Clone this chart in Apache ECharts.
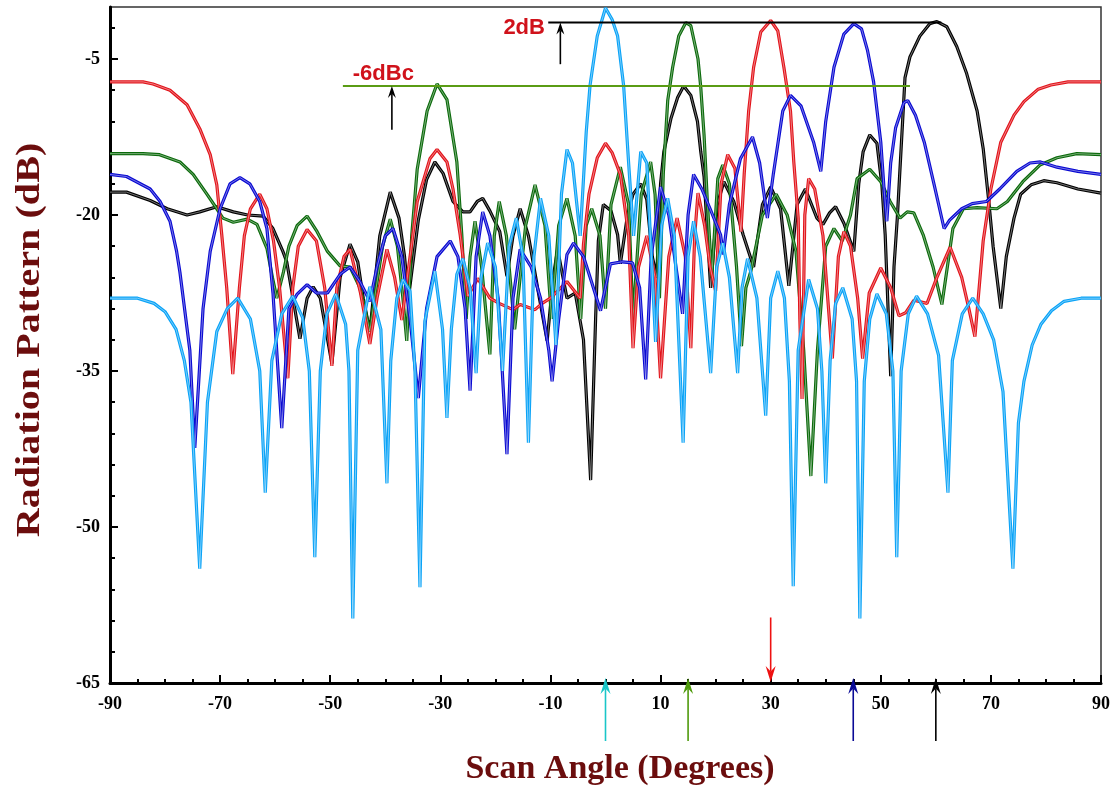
<!DOCTYPE html>
<html>
<head>
<meta charset="utf-8">
<script src="https://cdn.jsdelivr.net/npm/echarts@6/dist/echarts.min.js"></script>
<style>
html, body { margin: 0; padding: 0; background: #fff; }
#chart { width: 1118px; height: 788px; }
</style>
</head>
<body>
<div id="chart"></div>
<script>
// scan angle (deg) vs radiation pattern (dB), one trace per beam position
const beam0 = [[-90,-28],[-85,-28],[-82,-28.5],[-80,-29.3],[-78,-31],[-76.5,-34],[-75.3,-38],[-73.7,-54],[-72.3,-38],[-70.6,-31.2],[-68.7,-29],[-66.8,-28],[-64.5,-30],[-62.8,-35],[-61.8,-46.7],[-60.6,-34],[-58.8,-29.5],[-56.8,-27.8],[-55,-29.9],[-53.8,-35],[-52.8,-52.9],[-51.8,-35],[-50.6,-29.5],[-49,-27.6],[-47.2,-30.5],[-46.6,-35],[-45.9,-58.8],[-45,-33],[-42.8,-26.9],[-40.8,-31],[-39.7,-45.8],[-39,-34],[-37.9,-28],[-36.8,-26.2],[-35.5,-27.3],[-34.6,-35],[-33.7,-55.8],[-32.8,-30.2],[-31,-25.4],[-29.6,-31],[-28.8,-39.5],[-28,-31],[-27,-25.7],[-25.9,-24.2],[-24.6,-27],[-23.5,-35.2],[-22.6,-26],[-21.4,-22.7],[-20,-25],[-18.7,-35],[-17.5,-23],[-16.2,-20.3],[-15,-24],[-14,-41.9],[-13,-24],[-11.8,-18.4],[-10.3,-22],[-9,-32.5],[-8,-18],[-7,-13.7],[-6,-15],[-4.6,-22],[-3.5,-12],[-2.8,-7.5],[-1.5,-2.8],[0,-0.1],[1.2,-1.2],[2.2,-2.8],[3.3,-7.6],[4.2,-15],[5.1,-22],[6.4,-13.9],[7.5,-15],[9.1,-32.2],[10.2,-21],[11.3,-18.4],[12.5,-22],[14.1,-41.9],[15,-24],[16,-20.6],[17.2,-24],[19.1,-35.2],[20.2,-25],[21.3,-22.7],[22.5,-26],[24,-35.2],[24.8,-27],[25.8,-24.2],[27.5,-28],[29.1,-39.3],[30,-28],[31.3,-25.4],[32.5,-28],[33.4,-36],[34.1,-55.7],[35,-33],[36.9,-26.2],[38.5,-29],[39.3,-35],[40,-45.8],[40.8,-34],[41.8,-28.5],[43.1,-27],[44.8,-30],[45.6,-36],[46.2,-58.8],[47,-36],[48,-30],[49.3,-27.6],[51,-29.5],[52.2,-35],[52.9,-52.9],[53.7,-35],[55,-29.5],[56.5,-27.8],[58.5,-29.5],[60.5,-33.5],[62.2,-46.7],[63,-34],[64.8,-29.5],[66.7,-28],[68.6,-29.5],[70.5,-32],[72.2,-37],[74,-54],[75,-40],[76,-36],[77.5,-32.5],[79.1,-30.5],[81,-29.2],[83.3,-28.3],[86.4,-28],[90,-28]];

const beam15 = [[-90,-14.1],[-84,-14.1],[-81,-14.2],[-77.3,-14.9],[-74.9,-16.1],[-72.4,-18],[-70.6,-19.4],[-69.5,-20.3],[-67.6,-20.7],[-65.1,-20.4],[-63.3,-20.9],[-61.5,-23.2],[-60.5,-26],[-59.7,-28],[-58.5,-25.5],[-57.5,-23],[-56,-21],[-54.2,-20.1],[-52.5,-21.5],[-50.5,-23.5],[-48.2,-24.9],[-46.4,-25],[-44.6,-27],[-43.5,-29.5],[-42.8,-31.2],[-41.8,-27.5],[-40.5,-23],[-39.1,-20.4],[-37.8,-23],[-36.8,-28],[-36.1,-32.1],[-35.2,-22],[-34.2,-15.6],[-32.4,-10],[-30.6,-7.4],[-28.8,-8.9],[-27,-14.9],[-26.1,-21.9],[-25.3,-30],[-24.6,-24],[-23.7,-20.6],[-22.5,-25],[-21,-33.4],[-20.2,-22],[-19.3,-18.7],[-18,-22],[-16.5,-31],[-14.5,-21],[-12.8,-17.1],[-11,-21],[-9.8,-30],[-8.5,-21],[-7,-18.4],[-5.5,-22],[-4.5,-30],[-3.5,-21],[-2.5,-19.4],[-1,-22],[0,-29],[1,-19],[2.7,-15.4],[4.2,-19],[5,-30],[6.5,-18],[8.2,-14.9],[9,-18],[9.8,-28],[10.5,-16],[11.3,-9],[12.2,-5.8],[13.3,-2.8],[14.6,-1.5],[15.5,-1.8],[16.8,-5],[17.3,-7.7],[17.9,-12.3],[18.5,-18.7],[19.3,-26],[20.4,-16.5],[21.3,-15.2],[22.5,-17],[23.8,-25],[24.7,-32.6],[25.5,-27],[26.4,-25.4],[28.5,-20],[31,-18],[33,-20],[34.6,-23.5],[36,-33],[37.3,-45.1],[38.5,-33],[40,-23],[41.5,-21.3],[43,-22.5],[44.5,-20],[45.7,-16.5],[48,-15.6],[50,-16.8],[51.7,-18.7],[53.5,-20.3],[54.8,-19.7],[56,-19.8],[57.7,-21.9],[59.5,-25],[61.1,-28.6],[62.5,-23.5],[63.1,-21.3],[65,-19.4],[67.5,-19.3],[71.1,-19.4],[73,-18.7],[75.8,-16.8],[78.9,-15.2],[82,-14.5],[85.6,-14.1],[90,-14.2]];

const beam30 = [[-90,-7.2],[-84,-7.2],[-82.2,-7.4],[-79.1,-8],[-76,-9.4],[-73.7,-11.7],[-71.8,-14.2],[-70.6,-17.1],[-69.7,-21.9],[-68.8,-27],[-67.7,-35.3],[-66.5,-27],[-65.6,-22],[-64.5,-19.4],[-62.8,-18],[-61.5,-19.4],[-60.3,-22.5],[-59.2,-27],[-57.7,-35.7],[-56.8,-27],[-55.8,-23],[-54.2,-21.4],[-52.5,-22.5],[-51,-27],[-49.7,-34.5],[-48.8,-27],[-47.5,-24],[-46.4,-23.3],[-44.5,-27.5],[-42.8,-32.4],[-41.5,-28],[-39.7,-23.3],[-38.3,-26],[-37,-30.1],[-35.5,-24],[-34.2,-18.7],[-31.9,-14.6],[-30.6,-13.7],[-28.8,-14.9],[-27.7,-17.5],[-26.4,-21.9],[-25,-27.8],[-23.2,-26.1],[-21,-28],[-19.3,-28.5],[-16.8,-29.1],[-15.5,-28.6],[-12.8,-29.1],[-11.5,-28.5],[-10,-28],[-7,-26.4],[-4.6,-28],[-4,-22.8],[-3,-18],[-1.5,-14.5],[0,-13.1],[1.2,-14],[2.7,-16.1],[4.2,-21.9],[5,-32.8],[6,-25],[7.5,-22],[9,-26],[10,-35.7],[11.5,-24],[13,-20.3],[14.5,-24],[15.5,-32.8],[16.2,-22],[16.8,-17.9],[18,-21],[19,-25],[20,-27.3],[21,-17],[22.2,-14.2],[23.5,-15.5],[24.6,-21.6],[25.2,-16],[26,-10],[26.9,-5.8],[28.2,-2.4],[30,-1.3],[31.3,-2.3],[32.4,-5.8],[33.6,-10],[34.2,-14.9],[35,-20.3],[35.3,-30],[35.7,-37.7],[36.2,-20],[36.9,-16.5],[38,-17.5],[39.5,-22],[41.2,-33.8],[42.3,-24],[43.3,-21.6],[44.5,-23],[45.8,-28],[46.7,-33.8],[47.9,-27.5],[50,-25.1],[51.8,-27],[53.3,-29.7],[54.5,-29.4],[56,-28.2],[58.4,-28.5],[60.2,-26],[62.6,-23.1],[64.7,-26],[66,-29],[67.1,-31.7],[68.6,-22.5],[70,-17.5],[71.8,-13],[74.2,-10.4],[76,-9.1],[78.6,-7.9],[80.9,-7.5],[84,-7.2],[90,-7.2]];

const beam45 = [[-90,-16.1],[-87,-16.3],[-82.7,-17.5],[-80.9,-18.7],[-79.1,-20.6],[-77.9,-23.5],[-77.3,-25.5],[-75.5,-33],[-74.6,-42.4],[-73.1,-29],[-71.8,-23.5],[-70,-19.4],[-68.2,-17],[-66.4,-16.4],[-64.6,-17],[-62.8,-18.7],[-61.5,-21.3],[-60.4,-27.5],[-58.8,-40.5],[-57.5,-29],[-56,-27.6],[-54.2,-26.7],[-52.5,-27.5],[-50.5,-27.5],[-48.2,-25.7],[-46.4,-25],[-44.5,-26.5],[-42.8,-28.3],[-41.5,-25],[-40,-22],[-38.6,-21.3],[-37,-24],[-35.5,-30],[-34,-37.6],[-32.5,-29],[-30.6,-24],[-28.2,-22.5],[-26.8,-24],[-25.5,-29],[-24.6,-36.9],[-23.5,-24],[-22.3,-19.7],[-21,-22],[-19.5,-28],[-17.9,-43],[-16.8,-28],[-15.5,-23.3],[-13.5,-25],[-11.8,-28],[-10.3,-33],[-9.7,-36],[-8.5,-30],[-7,-23.8],[-5.8,-22.7],[-4,-24],[-2.5,-26.5],[-0.9,-29.2],[0.9,-24.7],[3,-24.5],[4.9,-24.6],[6.2,-27],[7.3,-35.8],[8.3,-24],[10,-17.3],[11.5,-20],[12.8,-25],[14,-29.5],[15,-20],[16,-16.1],[17.5,-17.5],[19,-19.4],[20.9,-21.9],[21.4,-23.8],[22.5,-19],[24.5,-14.6],[26.7,-12.5],[28,-15],[29.4,-20.3],[30.5,-16],[32.2,-10],[33.6,-8.5],[35.5,-9.5],[37.8,-13],[39.1,-15.8],[40,-11],[41.5,-5.8],[43.3,-2.6],[45.1,-1.6],[46.5,-2.1],[47.6,-4.2],[48.7,-7.2],[50,-13],[50.6,-17.5],[51.1,-20.6],[51.8,-15],[52.7,-11.6],[54.2,-9.2],[54.9,-9],[56.3,-10.4],[57.9,-13],[59.7,-17.1],[61.5,-21.3],[62.5,-20.5],[64.7,-19.4],[66.6,-18.9],[69.2,-18.7],[71.6,-17.5],[74.7,-15.8],[77.1,-15],[79,-14.9],[82,-15.4],[85.8,-15.8],[90,-16.1]];

const beam60 = [[-90,-17.8],[-87,-17.8],[-82.7,-18.6],[-79.6,-19.4],[-76,-20],[-73.7,-19.7],[-70.6,-19.2],[-67.6,-19.7],[-65,-20],[-62.2,-20.1],[-60.4,-21.3],[-58.6,-23.5],[-57.9,-24.5],[-55.5,-31.9],[-54.2,-28],[-53.1,-26.9],[-51.8,-28],[-49.7,-34.3],[-48.2,-26],[-46.4,-22.8],[-45,-24.5],[-44,-28],[-42.8,-31.2],[-41,-22],[-39.1,-17.8],[-37.5,-20.3],[-36.5,-24],[-35.8,-28],[-34,-20.5],[-32.5,-16.6],[-31,-14.9],[-29.5,-16],[-27.7,-18.7],[-25.9,-19.7],[-24.6,-19.7],[-23.3,-18.7],[-22.3,-18.4],[-21,-19.6],[-19.2,-21.6],[-17.9,-25.9],[-16.8,-22],[-15.5,-19.4],[-14,-22],[-12,-28],[-10.6,-32.1],[-9.5,-26],[-8.7,-23.3],[-7,-28],[-5.5,-27.5],[-4,-32],[-2.7,-45.5],[-1.8,-30],[-1.3,-22.5],[-0.4,-19],[1,-19.6],[2.2,-21.9],[2.7,-24.7],[4,-20],[5,-18],[6.4,-17],[7.5,-18.5],[8.5,-24],[9.3,-26],[10,-17],[10.6,-13.9],[11.9,-10.7],[13.1,-8.7],[14.2,-7.6],[15.5,-8.5],[16.7,-11],[17.3,-13.9],[17.9,-16.3],[19.1,-27],[20.3,-19],[21.5,-16.8],[23.3,-18.7],[25,-21.9],[26.9,-25],[28.5,-19],[30,-17.3],[31.8,-19.4],[33.3,-26.8],[34.8,-19],[36.3,-17.5],[38.4,-20.3],[39.5,-20.9],[40.7,-19.8],[41.8,-19.2],[43.3,-20.8],[45.1,-23.5],[46,-17],[46.8,-13.9],[48,-12.3],[49.3,-13.1],[50.2,-17.1],[50.8,-21.9],[51.8,-35.5],[52.4,-25],[53,-20.3],[54.4,-6.8],[55.3,-4.8],[57.1,-2.8],[58.9,-1.6],[60.2,-1.4],[62,-1.9],[63.8,-3.8],[65.6,-6.4],[67.5,-10],[68.6,-13.6],[69.6,-18.6],[70.4,-23],[71.8,-29],[72.8,-24],[74.2,-20.3],[75.4,-18],[77.3,-17.1],[79.6,-16.7],[82,-16.9],[85.8,-17.5],[90,-17.9]];

const xMajor = [-90, -70, -50, -30, -10, 10, 30, 50, 70, 90];
const xMinor = [-85, -80, -75, -65, -60, -55, -45, -40, -35, -25, -20, -15, -5, 0, 5, 15, 20, 25, 35, 40, 45, 55, 60, 65, 75, 80, 85];
const yMajor = [-65, -50, -35, -20, -5];
const yMinor = [-62, -59, -56, -53, -47, -44, -41, -38, -32, -29, -26, -23, -17, -14, -11, -8, -2];

const scanAngles = [0, 15, 30, 45, 60];
const arrowColors = ['#19c6c8', '#4f9a0c', '#ee1111', '#0a0a96', '#000000'];

const chart = echarts.init(document.getElementById('chart'));

const labelFont = { fontFamily: '"Liberation Serif", "Times New Roman", serif', fontWeight: 'bold', fontSize: 18, color: '#000' };

const traces = [
  { data: beam60, color: '#000000' },
  { data: beam15, color: '#0b6a0b' },
  { data: beam30, color: '#e2141b' },
  { data: beam45, color: '#0a0ad2' },
  { data: beam0, color: '#0aa3f7' }
];

const series = [];
traces.forEach(function (t, i) {
  series.push({
    type: 'line', data: t.data, showSymbol: false, silent: true, z: 2 + i * 2,
    lineStyle: { color: t.color, width: 3.2 }
  });
  series.push({
    type: 'line', data: t.data, showSymbol: false, silent: true, z: 3 + i * 2,
    lineStyle: { color: 'rgba(255,255,255,0.5)', width: 0.9 }
  });
});

chart.setOption({
  animation: false,
  backgroundColor: '#fff',
  grid: { left: 110, right: 17, top: 7, bottom: 105, show: true, borderColor: '#333', borderWidth: 1.5 },
  xAxis: [
    {
      type: 'value', min: -90, max: 90, position: 'bottom',
      axisLine: { onZero: false, lineStyle: { color: '#000', width: 3 } },
      axisTick: { customValues: xMajor, inside: true, length: 8, lineStyle: { color: '#000', width: 2 } },
      axisLabel: Object.assign({ customValues: xMajor, margin: 12 }, labelFont),
      splitLine: { show: false }
    },
    {
      type: 'value', min: -90, max: 90, position: 'bottom',
      axisLine: { show: false, onZero: false },
      axisTick: { customValues: xMinor, inside: true, length: 4, lineStyle: { color: '#000', width: 2 } },
      axisLabel: { show: false },
      splitLine: { show: false }
    }
  ],
  yAxis: [
    {
      type: 'value', min: -65, max: 0, position: 'left',
      axisLine: { onZero: false, lineStyle: { color: '#000', width: 3 } },
      axisTick: { customValues: yMajor, inside: true, length: 8, lineStyle: { color: '#000', width: 2 } },
      axisLabel: Object.assign({ customValues: yMajor, margin: 10 }, labelFont),
      splitLine: { show: false }
    },
    {
      type: 'value', min: -65, max: 0, position: 'left',
      axisLine: { show: false, onZero: false },
      axisTick: { customValues: yMinor, inside: true, length: 5, lineStyle: { color: '#000', width: 2 } },
      axisLabel: { show: false },
      splitLine: { show: false }
    }
  ],
  series: series
});

// annotations placed through the axes
function toPx(x, y) { return chart.convertToPixel({ xAxisIndex: 0, yAxisIndex: 0 }, [x, y]); }

function arrow(tail, tip, color, shaftW, headL, headW) {
  const ang = Math.atan2(tip[1] - tail[1], tip[0] - tail[0]);
  const c = Math.cos(ang), s = Math.sin(ang);
  const bx = tip[0] - headL * c, by = tip[1] - headL * s;
  const nx = tip[0] - headL * 0.65 * c, ny = tip[1] - headL * 0.65 * s;
  return [
    { type: 'line', z: 50, shape: { x1: tail[0], y1: tail[1], x2: nx, y2: ny }, style: { stroke: color, lineWidth: shaftW } },
    { type: 'polygon', z: 50, shape: { points: [tip, [bx - s * headW, by + c * headW], [nx, ny], [bx + s * headW, by - c * headW]] }, style: { fill: color } }
  ];
}

const g = [];
const annFont = 'bold 22px "Liberation Sans", Arial, sans-serif';
// 2 dB reference line
const l2a = toPx(-10.4, -1.5), l2b = toPx(61, -1.5);
g.push({ type: 'line', z: 40, shape: { x1: l2a[0], y1: l2a[1], x2: l2b[0], y2: l2b[1] }, style: { stroke: '#000', lineWidth: 2 } });
g.push.apply(g, arrow(toPx(-8.2, -5.5), toPx(-8.2, -1.5), '#000', 1.6, 12, 4));
const t2 = toPx(-11, -2);
g.push({ type: 'text', z: 50, x: t2[0], y: t2[1], style: { text: '2dB', font: annFont, fill: '#d0121b', align: 'right', verticalAlign: 'middle' } });
// -6 dBc line
const l6a = toPx(-47.7, -7.6), l6b = toPx(55.3, -7.6);
g.push({ type: 'line', z: 40, shape: { x1: l6a[0], y1: l6a[1], x2: l6b[0], y2: l6b[1] }, style: { stroke: '#5a9c14', lineWidth: 2 } });
g.push.apply(g, arrow(toPx(-38.8, -11.8), toPx(-38.8, -7.6), '#000', 1.6, 12, 4));
const t6 = toPx(-45.9, -6.4);
g.push({ type: 'text', z: 50, x: t6[0], y: t6[1], style: { text: '-6dBc', font: annFont, fill: '#d0121b', align: 'left', verticalAlign: 'middle' } });

// scan direction arrows at the bottom axis
scanAngles.forEach(function (a, i) {
  const tip = toPx(a, -65);
  if (a === 30) {
    const tail = toPx(a, -58.7);
    g.push.apply(g, arrow(tail, [tip[0], tip[1] - 1], arrowColors[i], 1.6, 16, 5));
  } else {
    g.push.apply(g, arrow([tip[0], tip[1] + 58], [tip[0], tip[1] - 5], arrowColors[i], 1.6, 16, 5));
  }
});

// axis titles
g.push({ type: 'text', z: 50, x: 30, y: 340, rotation: Math.PI / 2, scaleX: 1.18, style: { text: 'Radiation Pattern (dB)', font: 'bold 34px "Liberation Serif", "Times New Roman", serif', fill: '#6b0d0d', align: 'center', verticalAlign: 'middle' } });
g.push({ type: 'text', z: 50, x: 620, y: 769, style: { text: 'Scan Angle (Degrees)', font: 'bold 34px "Liberation Serif", "Times New Roman", serif', fill: '#6b0d0d', align: 'center', verticalAlign: 'middle' } });

chart.setOption({ graphic: g });
</script>
</body>
</html>
